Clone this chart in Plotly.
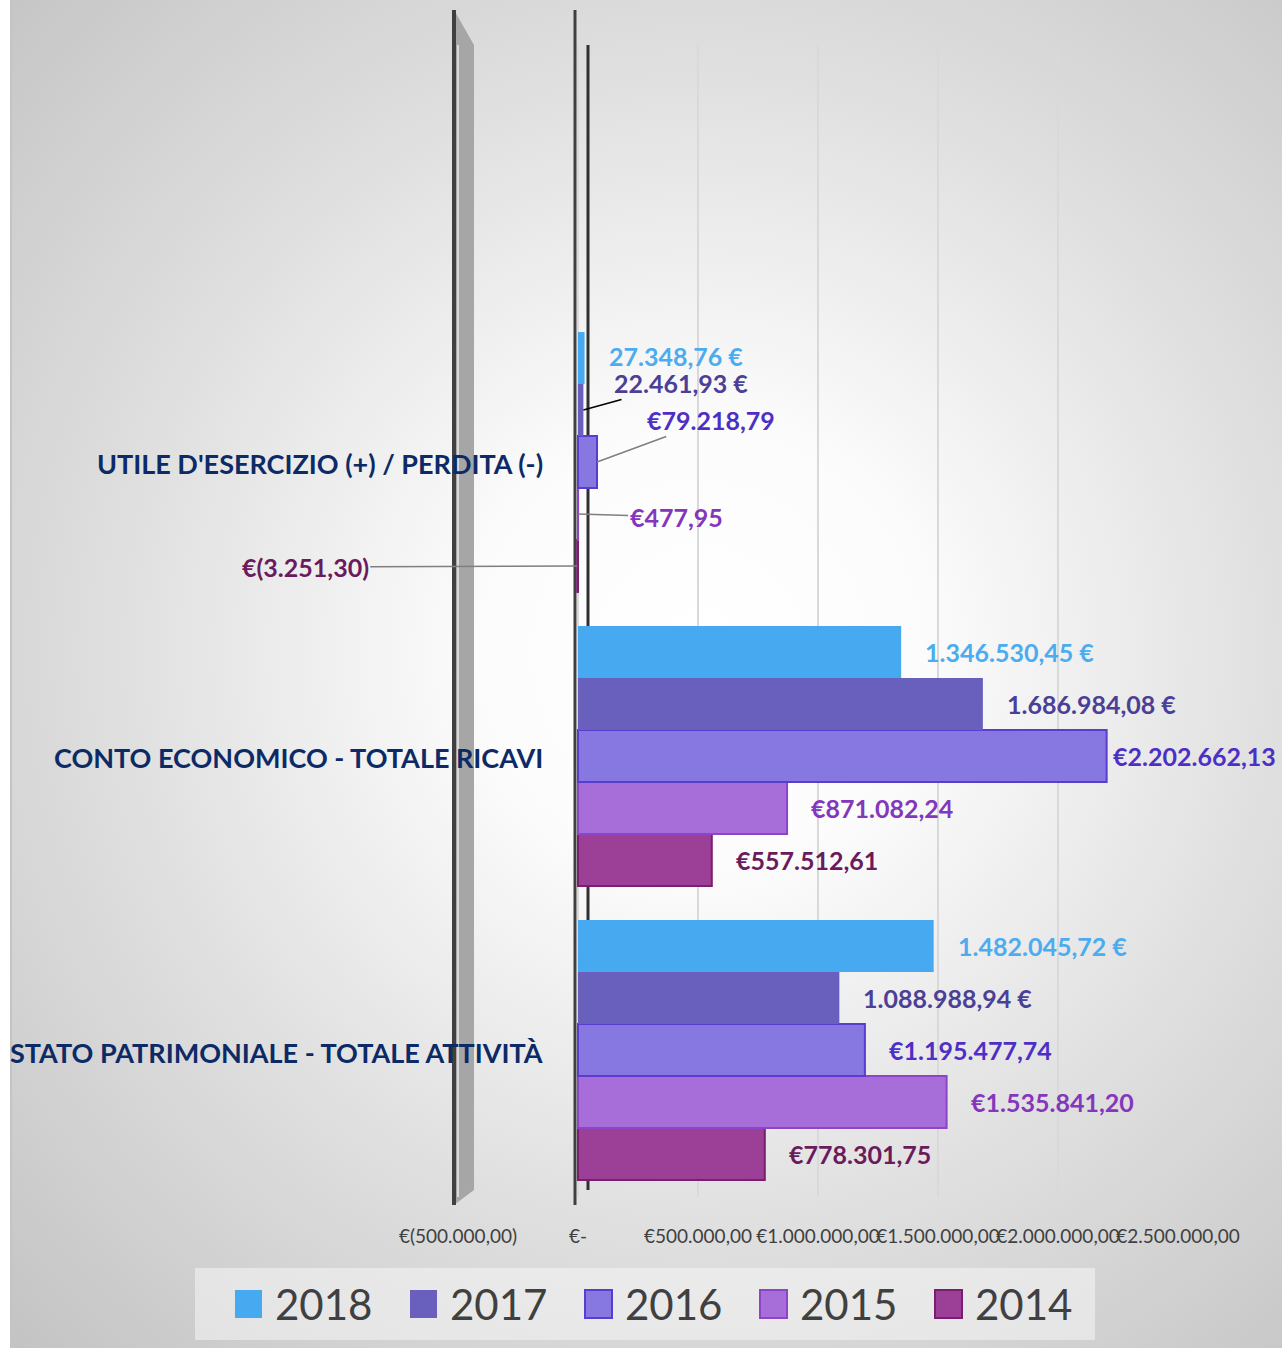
import base64
import plotly.graph_objects as go

# ---------------- data ----------------
categories = [
    "STATO PATRIMONIALE - TOTALE ATTIVITÀ",
    "CONTO ECONOMICO - TOTALE RICAVI",
    "UTILE D'ESERCIZIO (+) / PERDITA (-)",
]
series_names = ["2014", "2015", "2016", "2017", "2018"]
values_2014 = [778301.75, 557512.61, -3251.30]
values_2015 = [1535841.20, 871082.24, 477.95]
values_2016 = [1195477.74, 2202662.13, 79218.79]
values_2017 = [1088988.94, 1686984.08, 22461.93]
values_2018 = [1482045.72, 1346530.45, 27348.76]
series_values = [values_2014, values_2015, values_2016, values_2017, values_2018]

x_tickvals = [-500000, 0, 500000, 1000000, 1500000, 2000000, 2500000]
x_ticktext = ["€(500.000,00)", "€-", "€500.000,00", "€1.000.000,00",
              "€1.500.000,00", "€2.000.000,00", "€2.500.000,00"]

# ---------------- style ----------------
W, H = 1282, 1348
bar_fill = ["#9C3F96", "#A76DD8", "#8777E0", "#6860BC", "#47A9EF"]
bar_line = ["#7A1F70", "#8C45C8", "#5A3CD0", "#6860BC", "#47A9EF"]
bar_line_w = [2, 2, 2, 0, 0]
label_color = ["#6A1B5C", "#8437BC", "#4E2FC6", "#4B3F96", "#4BACEF"]
label_style = ["prefix", "prefix", "prefix", "suffix", "suffix"]
navy = "#0C2A66"
bargap = 0.116


def fx(px):
    return px / W


def fy(py):
    return 1 - py / H


def fmt(v, style):
    s = f"{abs(v):,.2f}".replace(",", "X").replace(".", ",").replace("X", ".")
    if style == "suffix":
        return (f"-{s} €" if v < 0 else f"{s} €")
    return f"€({s})" if v < 0 else f"€{s}"


# background radial gradient
svg = (
    "<svg xmlns='http://www.w3.org/2000/svg' width='1272' height='1348' preserveAspectRatio='none'>"
    "<defs><radialGradient id='g' gradientUnits='userSpaceOnUse' cx='690' cy='650' r='1000'>"
    "<stop offset='0' stop-color='#FFFFFF'/><stop offset='0.22' stop-color='#FCFCFC'/>"
    "<stop offset='0.6' stop-color='#DEDEDE'/>"
    "<stop offset='1' stop-color='#C2C2C2'/></radialGradient></defs>"
    "<rect width='1272' height='1348' fill='url(#g)'/>"
    "<rect x='0' y='0' width='2' height='1348' fill='#C4C4C4'/></svg>"
)
img_src = "data:image/svg+xml;base64," + base64.b64encode(svg.encode()).decode()

fig = go.Figure()
for i, name in enumerate(series_names):
    fig.add_trace(go.Bar(
        y=categories, x=series_values[i], orientation="h", name=name,
        marker=dict(color=bar_fill[i], line=dict(color=bar_line[i], width=bar_line_w[i])),
        showlegend=False, hoverinfo="skip",
    ))

n = len(series_names)
bw = (1 - bargap) / n
# leader-line offsets (pixels) for the small "utile" values
leaders = {
    "2017": (98, -27, "#000000"),
    "2016": (114, -42, "#7F7F7F"),
    "2015": (98, 3, "#7F7F7F"),
    "2014": (-272, 1, "#7F7F7F"),
}
annotations = []
for i, name in enumerate(series_names):
    for j, cat in enumerate(categories):
        v = series_values[i][j]
        yc = j - (1 - bargap) / 2 + (i + 0.5) * bw
        txt = fmt(v, label_style[i])
        font = dict(family="Lato", size=25, color=label_color[i], weight="bold")
        if j == 2 and name in leaders:
            ax, ay, lc = leaders[name]
            annotations.append(dict(
                x=v, y=yc, xref="x", yref="y", text=txt, showarrow=True,
                ax=ax, ay=ay, arrowhead=0, arrowwidth=1.5, arrowcolor=lc,
                standoff=0, font=font,
            ))
        else:
            annotations.append(dict(
                x=v, y=yc, xref="x", yref="y", text=txt, showarrow=False,
                xanchor="left", yanchor="middle", xshift=(4 if v > 2e6 else 22),
                yshift=(2 if j == 2 else 0), font=font,
            ))

# category labels
for j, cat in enumerate(categories):
    annotations.append(dict(
        x=fx(545), y=j, xref="paper", yref="y", text=cat, showarrow=False,
        xanchor="right", yanchor="middle", yshift=-2,
        font=dict(family="Lato", size=27, color=navy, weight="bold"),
    ))

# custom legend (2018 first)
shapes = [
    dict(type="rect", xref="paper", yref="paper", x0=fx(195), x1=fx(1095),
         y0=fy(1340), y1=fy(1268), fillcolor="rgba(245,245,245,0.55)",
         line=dict(width=0), layer="above"),
]
for k, i in enumerate(reversed(range(n))):
    sx = 235 + 175 * k
    shapes.append(dict(
        type="rect", xref="paper", yref="paper", x0=fx(sx), x1=fx(sx + 27),
        y0=fy(1318), y1=fy(1290), fillcolor=bar_fill[i],
        line=dict(color=bar_line[i], width=2 if bar_line_w[i] else 0), layer="above",
    ))
    annotations.append(dict(
        x=fx(sx + 38), y=fy(1304), xref="paper", yref="paper", text=series_names[i],
        showarrow=False, xanchor="left", yanchor="middle",
        font=dict(family="Lato", size=42, color="#404040"),
    ))

# 3D-ish axis walls / lines
shapes += [
    dict(type="path", xref="x", xsizemode="pixel", xanchor=-500000, yref="paper",
         path=f"M-4,{fy(10)} L16,{fy(45)} L16,{fy(1190)} L-4,{fy(1205)} Z",
         fillcolor="#A6A6A6", line=dict(width=0), layer="between"),
    dict(type="line", xref="x", xsizemode="pixel", xanchor=-500000, yref="paper",
         x0=-4, x1=-4, y0=fy(10), y1=fy(1205), line=dict(color="#404040", width=4), layer="between"),
    dict(type="line", xref="x", xsizemode="pixel", xanchor=0, yref="paper",
         x0=-3, x1=-3, y0=fy(10), y1=fy(1205), line=dict(color="#404040", width=3), layer="between"),
    dict(type="line", xref="x", xsizemode="pixel", xanchor=0, yref="paper",
         x0=10, x1=10, y0=fy(45), y1=fy(1190), line=dict(color="#303030", width=3), layer="between"),
]

x0_val = -530000
px_per_unit = 120 / 500000
fig.update_layout(
    width=W, height=H, margin=dict(l=0, r=0, t=0, b=0, autoexpand=False),
    paper_bgcolor="#FFFFFF", plot_bgcolor="rgba(0,0,0,0)",
    barmode="group", bargap=bargap, bargroupgap=0,
    images=[dict(source=img_src, xref="paper", yref="paper", x=fx(10), y=1,
                 sizex=fx(1272), sizey=1, xanchor="left", yanchor="top",
                 sizing="stretch", layer="below")],
    xaxis=dict(domain=[fx(578 + x0_val * px_per_unit), fx(1178)], range=[x0_val, 2500000],
               tickvals=x_tickvals, ticktext=x_ticktext, tickangle=0,
               showgrid=True, gridcolor="#D9D9D9", gridwidth=1.5, zeroline=False,
               ticks="outside", ticklen=22, tickcolor="rgba(0,0,0,0)",
               tickfont=dict(family="Lato", size=19, color="#404040"), showline=False,
               automargin=False),
    yaxis=dict(domain=[fy(1197), fy(44.5)], range=[-0.5, 3.42], type="category",
               showticklabels=False, showgrid=False, zeroline=False, showline=False,
               automargin=False),
    annotations=annotations, shapes=shapes,
)

fig.write_html("out.html", post_script="document.body.style.margin='0';",
               config={"displayModeBar": False})
